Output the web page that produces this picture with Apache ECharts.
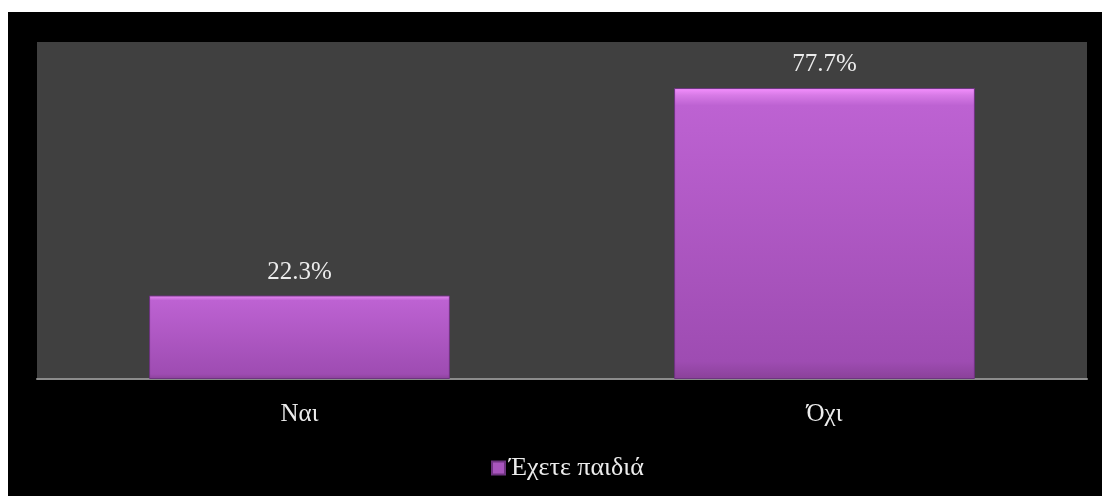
<!DOCTYPE html>
<html>
<head>
<meta charset="utf-8">
<script src="https://cdn.jsdelivr.net/npm/echarts@6/dist/echarts.min.js"></script>
<style>
  html, body { margin: 0; padding: 0; background: #ffffff; }
  #chart { position: absolute; left: 8px; top: 12px; width: 1094px; height: 484px; background: #000000; }
</style>
</head>
<body>
<div id="chart"></div>
<script>
// Answers to "Έχετε παιδιά" (percent)
const categories = ['Ναι', 'Όχι'];
const seriesName = 'Έχετε παιδιά';
const values = [22.3, 77.7];

const FONT = '"Liberation Serif", "Times New Roman", serif';
const chart = echarts.init(document.getElementById('chart'), null, { renderer: 'canvas' });

// bevelled purple fill: bright top rim fading into a darker base
const barFill = new echarts.graphic.LinearGradient(0, 0, 0, 1, [
  { offset: 0, color: '#f590ff' },
  { offset: 0.025, color: '#d77ae6' },
  { offset: 0.06, color: '#bd62d2' },
  { offset: 0.94, color: '#9e4cb2' },
  { offset: 1, color: '#8a4199' }
]);

chart.setOption({
  backgroundColor: '#000000',
  animation: false,
  grid: {
    left: 29, right: 15, top: 30, bottom: 117,
    show: true, backgroundColor: '#404040', borderWidth: 0
  },
  legend: {
    bottom: 10, left: 478,
    itemWidth: 13, itemHeight: 13, itemGap: 4,
    icon: 'rect',
    textStyle: { color: '#ececec', fontFamily: FONT, fontSize: 26, padding: [0, 0, 0, -1] },
    data: [{ name: seriesName, itemStyle: { color: '#a855bd' } }]
  },
  xAxis: {
    type: 'category',
    data: categories,
    axisLine: { lineStyle: { color: '#8c8c8c', width: 2 } },
    axisTick: { show: false },
    axisLabel: { color: '#ececec', fontFamily: FONT, fontSize: 25, margin: 23 }
  },
  yAxis: {
    type: 'value', min: 0, max: 90, interval: 10,
    show: false,
    splitLine: { show: false }
  },
  series: [{
    name: seriesName,
    type: 'bar',
    data: values,
    barWidth: '57.3%',
    itemStyle: { color: barFill, borderColor: '#6e3480', borderWidth: 1 },
    label: {
      show: true, position: 'top', distance: 11,
      color: '#ececec', fontFamily: FONT, fontSize: 25,
      formatter: p => p.value.toFixed(1) + '%'
    }
  }]
});
</script>
</body>
</html>
